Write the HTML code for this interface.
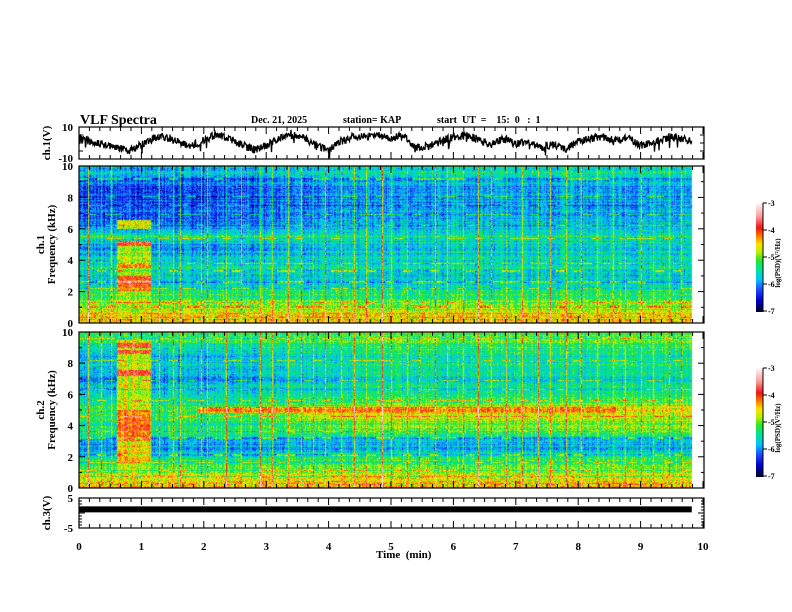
<!DOCTYPE html>
<html><head><meta charset="utf-8"><style>
html,body{margin:0;padding:0;background:#fff;}
#root{position:relative;width:792px;height:612px;overflow:hidden;font-family:"Liberation Serif",serif;font-weight:bold;}
canvas{position:absolute;}
svg{position:absolute;left:0;top:0;}
</style></head><body>
<div id="root">
<canvas id="spec1" width="625" height="157" style="left:79px;top:166px"></canvas>
<canvas id="spec2" width="625" height="156" style="left:79px;top:332px"></canvas>
<canvas id="cbar1" width="7" height="109" style="left:756px;top:203px"></canvas>
<canvas id="cbar2" width="7" height="109" style="left:756px;top:368px"></canvas>
<svg id="ax" width="792" height="612"></svg>
</div>
<script>
// ---------- data ----------
const freqGrid = [0,0.5,1,1.5,2,2.5,3,3.5,4,4.5,5,5.5,6,6.5,7,7.5,8,8.5,9,9.5,10];
const prof1Early = [-4.4,-4.6,-4.9,-5.1,-5.3,-5.7,-5.7,-5.4,-5.7,-5.9,-6.0,-5.3,-6.0,-6.2,-6.1,-6.2,-6.3,-6.4,-6.1,-5.9,-5.7];
const prof1Late  = [-4.4,-4.6,-4.9,-5.1,-5.3,-5.6,-5.7,-5.4,-5.6,-5.6,-5.7,-5.4,-5.8,-5.8,-5.8,-5.9,-5.9,-6.0,-5.8,-5.6,-5.4];
const prof2Early = [-4.3,-4.6,-4.9,-5.1,-5.6,-5.9,-5.8,-5.2,-5.5,-5.1,-5.2,-5.4,-5.5,-5.8,-6.0,-5.8,-5.7,-5.8,-5.5,-5.3,-5.1];
const prof2Late  = [-4.3,-4.6,-4.8,-5.0,-5.4,-5.8,-5.7,-5.1,-5.0,-4.8,-4.5,-5.1,-5.2,-5.5,-5.6,-5.5,-5.4,-5.4,-5.2,-5.1,-5.0];
// features: [fLow, fHigh, tStart, tEnd, value]
const features1 = [[0.5,5.2,0.6,1.15,-4.8],[4.9,5.2,0.6,1.15,-3.9],[2.0,3.0,0.6,1.15,-4.0],[3.5,3.8,0.6,1.15,-4.2],[6.0,6.6,0.6,1.15,-4.7]];
const features2 = [[0.5,9.5,0.6,1.15,-4.7],[9.0,9.3,0.6,1.15,-3.8],[8.6,8.9,0.6,1.15,-3.9],[7.2,7.6,0.6,1.15,-3.9],[3.0,5.0,0.6,1.15,-4.1],[1.6,2.8,0.6,1.15,-4.5],[4.8,5.2,1.9,8.6,-4.2],[4.4,4.8,3.5,8.6,-4.6]];
const hlines1 = [0.3,0.6,1.0,1.3,2.2,2.6,3.3,3.8,5.4,6.2,6.9,7.5,8.1,9.2];
const hlines2 = [0.2,0.4,0.7,1.1,1.6,2.1,3.2,3.6,4.6,5.6,6.3,6.9,8.2,9.6];
const spikeTimes = [0.15,0.35,0.52,1.28,1.5,1.62,1.95,2.05,2.35,2.6,2.9,3.1,3.35,3.55,3.75,3.95,4.2,4.4,4.6,4.85,5.0,5.25,5.45,5.7,5.9,6.15,6.4,6.6,6.85,7.1,7.35,7.55,7.8,8.05,8.3,8.55,8.75,9.0,9.2,9.45,9.65];
const ch1Times = [0,0.2,0.4,0.6,0.8,1.0,1.2,1.4,1.6,1.8,2.0,2.2,2.4,2.6,2.8,3.0,3.2,3.4,3.6,3.8,4.0,4.2,4.4,4.6,4.8,5.0,5.2,5.4,5.6,5.8,6.0,6.2,6.4,6.6,6.8,7.0,7.2,7.4,7.6,7.8,8.0,8.2,8.4,8.6,8.8,9.0,9.2,9.4,9.6,9.8];
const ch1Values = [3,1,-1,-3,-5,-1,3,4,0,-2,2,5,3,-1,-4,-2,3,6,3,-2,-4,1,4,4,5,3,5,-3,-2,1,4,5,2,-1,3,-1,1,-3,-1,-4,1,3,4,1,3,-2,1,3,4,1];
const ch3Times = [0,9.82];
const ch3Values = [1.2,1.2];
const timeTicks = [0,1,2,3,4,5,6,7,8,9,10];
const freqTicks = [0,2,4,6,8,10];
const cbarTicks = [-3,-4,-5,-6,-7];
const T_END = 9.82;

// ---------- scales ----------
const X0=79, PXM=62.4, XR=704;
const xOf = t => X0 + t*PXM;
function hash(a,b){let h=(a*374761393+b*668265263)^0x5bd1e995;h=(h^(h>>>13))*1274126177;h=h^(h>>>16);return ((h>>>0)%10000)/10000;}
const stops=[[-7,[0,0,40]],[-6.6,[0,0,200]],[-6.2,[30,70,255]],[-5.8,[0,200,255]],[-5.4,[0,230,140]],[-5.1,[40,230,40]],[-4.8,[190,240,0]],[-4.5,[255,225,0]],[-4.2,[255,120,0]],[-3.9,[240,20,20]],[-3.5,[255,150,150]],[-3,[255,245,245]]];
function cmap(v){if(v<=-7)return stops[0][1];if(v>=-3)return stops[stops.length-1][1];
 for(let i=0;i<stops.length-1;i++){const a=stops[i],b=stops[i+1];if(v>=a[0]&&v<=b[0]){const r=(v-a[0])/(b[0]-a[0]);return [0,1,2].map(k=>Math.round(a[1][k]+(b[1][k]-a[1][k])*r));}}}
function interp(xs,ys,x){if(x<=xs[0])return ys[0];for(let i=0;i<xs.length-1;i++){if(x<=xs[i+1]){const r=(x-xs[i])/(xs[i+1]-xs[i]);return ys[i]+(ys[i+1]-ys[i])*r;}}return ys[ys.length-1];}

function drawSpec(id,early,late,feats,hl,seed){
 const c=document.getElementById(id),ctx=c.getContext('2d'),W=c.width,H=c.height;
 const img=ctx.createImageData(W,H);
 const spikeCols=spikeTimes.map(t=>Math.round(t*PXM));
 for(let x=0;x<W;x++){
  const t=x/PXM;
  const colN=(hash(x,seed)-0.5)*0.5;
  let spike=0;spikeCols.forEach((s,k)=>{if(x===s)spike=0.6+hash(k,seed)*0.8;});
  const w=Math.min(1,Math.max(0,(t-2)/3));
  for(let y=0;y<H;y++){
   const i=(y*W+x)*4;
   if(t>T_END){img.data[i]=255;img.data[i+1]=255;img.data[i+2]=255;img.data[i+3]=255;continue;}
   const f=10*(1-y/(H-1));
   let v=interp(freqGrid,early,f)*(1-w)+interp(freqGrid,late,f)*w;
   for(const ft of feats){if(f>=ft[0]&&f<=ft[1]&&t>=ft[2]&&t<=ft[3])v=Math.max(v,ft[4]);}
   for(const h of hl){if(Math.abs(f-h)<0.04){v+= (hash(Math.floor(x/9),Math.round(h*10)+seed)>0.6?0.6:-0.3);}}
   const rowN=(hash(y,seed+7)-0.5)*0.4;
   v+=colN+rowN+(hash(x*3+y,y*5+seed)-0.5)*0.7+spike;
   const col=cmap(v);
   img.data[i]=col[0];img.data[i+1]=col[1];img.data[i+2]=col[2];img.data[i+3]=255;
  }
 }
 ctx.putImageData(img,0,0);
}
drawSpec('spec1',prof1Early,prof1Late,features1,hlines1,11);
drawSpec('spec2',prof2Early,prof2Late,features2,hlines2,23);
['cbar1','cbar2'].forEach(id=>{const c=document.getElementById(id),ctx=c.getContext('2d');
 for(let y=0;y<c.height;y++){const v=-3-4*y/(c.height-1);const col=cmap(v);ctx.fillStyle=`rgb(${col[0]},${col[1]},${col[2]})`;ctx.fillRect(0,y,c.width,1);}});

// ---------- axes ----------
const svg=document.getElementById('ax');const NS='http://www.w3.org/2000/svg';
function el(tag,attrs,parent){const e=document.createElementNS(NS,tag);for(const k in attrs)e.setAttribute(k,attrs[k]);(parent||svg).appendChild(e);return e;}
function txt(s,x,y,size,anchor,rot,name){const e=el('text',{x:x,y:y,'font-size':size,'text-anchor':anchor||'start','font-family':'Liberation Serif, serif','font-weight':'bold',fill:'#000',style:'white-space:pre'});
 if(rot)e.setAttribute('transform',`rotate(${rot} ${x} ${y})`);e.textContent=s;
 
 
 return e;}

const panels=[{n:'ch1-trace-panel',y0:127,y1:159},{n:'ch1-spectrogram-panel',y0:166,y1:323},{n:'ch2-spectrogram-panel',y0:332,y1:488},{n:'ch3-trace-panel',y0:498,y1:528}];
panels.forEach(p=>{
 const r=el('rect',{x:X0,y:p.y0,width:XR-X0,height:p.y1-p.y0,fill:'none',stroke:'#000','stroke-width':1.2});
 
 
 for(let k=0;k<=60;k++){const t=k/6;const x=xOf(t);const len=(k%6===0)?7:4;
  el('line',{x1:x,y1:p.y0,x2:x,y2:p.y0+len,stroke:'#000','stroke-width':1});
  el('line',{x1:x,y1:p.y1,x2:x,y2:p.y1-len,stroke:'#000','stroke-width':1});}
});
// frequency axes
[[166,323,'ch.1'],[332,488,'ch.2']].forEach(([y0,y1,lab],pi)=>{
 const yOf=f=>y1-(y1-y0)*f/10;
 for(let f=0;f<=10;f++){const y=yOf(f);const len=f%2===0?6:3;
  el('line',{x1:X0,y1:y,x2:X0+len,y2:y,stroke:'#000'});el('line',{x1:XR,y1:y,x2:XR-len,y2:y,stroke:'#000'});}
 freqTicks.forEach(f=>txt(String(f),73,yOf(f)+4,11,'end',0,'freq-tick-label-'+(pi+1)+'-'+f));
 txt(lab,44,(y0+y1)/2,11,'middle',-90,'ch'+(pi+1)+'-axis-title');
 txt('Frequency (kHz)',55,(y0+y1)/2,11,'middle',-90,'ch'+(pi+1)+'-frequency-axis-title');
});
// ch1 trace axis
const y1Of=v=>143-16*v/10;
txt('10',73,131,11,'end',0,'ch1-tick-label-top');
txt('-10',73,162,11,'end',0,'ch1-tick-label-bottom');
for(let v=-10;v<=10;v+=5){const y=y1Of(v);el('line',{x1:X0,y1:y,x2:X0+4,y2:y,stroke:'#000'});el('line',{x1:XR,y1:y,x2:XR-4,y2:y,stroke:'#000'});}
txt('ch.1(V)',50,143,11,'middle',-90,'ch1-axis-title');
let d='';for(let x=0;x<=Math.round(T_END*PXM);x+=0.5){const t=x/PXM;let v=interp(ch1Times,ch1Values,t)+(hash(Math.round(x*2),99)-0.5)*5;if(hash(Math.round(x*2),5)>0.985)v-=5;v=Math.max(-9.5,Math.min(9.5,v));d+=(x?'L':'M')+(X0+x)+' '+y1Of(v).toFixed(1);}
const tr=el('path',{d:d,fill:'none',stroke:'#000','stroke-width':1.3});


// ch3
const y3Of=v=>513-15*v/5;
[5,-5].forEach(v=>txt(String(v),73,y3Of(v)+4,11,'end',0,'ch3-tick-label'));
for(let v=-5;v<=5;v++){const y=y3Of(v);const len=v%5===0?6:3;el('line',{x1:X0,y1:y,x2:X0+len,y2:y,stroke:'#000'});el('line',{x1:XR,y1:y,x2:XR-len,y2:y,stroke:'#000'});}
txt('ch.3(V)',50,513,11,'middle',-90,'ch3-axis-title');
const tr3=el('path',{d:ch3Times.map((t,i)=>(i?'L':'M')+xOf(t)+' '+y3Of(ch3Values[i])).join(''),fill:'none',stroke:'#000','stroke-width':6});


// time axis
timeTicks.forEach(t=>txt(String(t),xOf(t),550,11,'middle',0,'time-tick-label-'+t));
txt('Time  (min)',376,558,11,'start',0,'x-axis-title');
// titles
txt('VLF Spectra',80,124,14,'start',0,'chart-title');
txt('Dec. 21, 2025',251,123,10,'start',0,'date-label');
txt('station= KAP',343,123,10,'start',0,'station-label');
txt('start  UT  =    15:  0   :  1',437,123,10,'start',0,'start-time-label');
// colorbar axes
[203,368].forEach((cy,ci)=>{
 el('line',{x1:763,y1:cy,x2:763,y2:cy+109,stroke:'#000','stroke-width':1});
 cbarTicks.forEach((v,i)=>{const y=cy+i*108/4;el('line',{x1:763,y1:y,x2:767,y2:y,stroke:'#000'});
  txt(String(v),768,y+3,8,'start',0,'colorbar-tick-label-'+(ci+1));});
 txt('log(PSD)(V²/Hz)',780,cy+60,7,'middle',-90,'colorbar-title-'+(ci+1));
});
</script>
</body></html>
